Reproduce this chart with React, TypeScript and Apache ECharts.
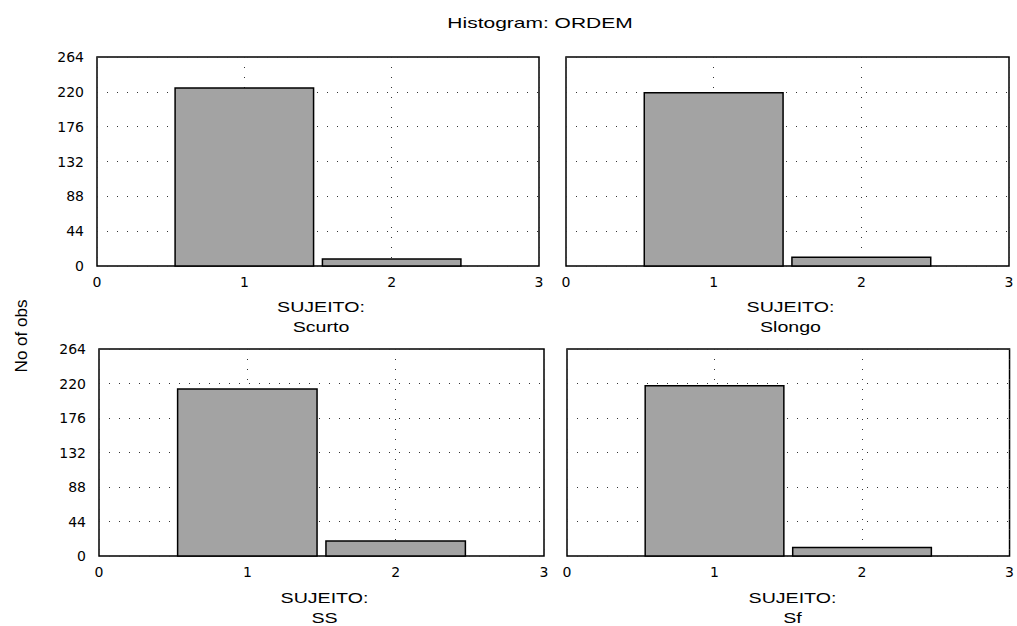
import React, { useEffect, useRef } from "react";
import * as echarts from "echarts";

const title = "Histogram: ORDEM";
const yAxisName = "No of obs";
const panelNames = ["Scurto", "Slongo", "SS", "Sf"];
const groupLabel = "SUJEITO:";
const binCenters = [1, 2];
const countsScurto = [225, 9];
const countsSlongo = [219, 11];
const countsSS = [213, 19];
const countsSf = [217, 11];
const allCounts = [countsScurto, countsSlongo, countsSS, countsSf];
const yTicks = [0, 44, 88, 132, 176, 220, 264];
const xTicks = [0, 1, 2, 3];

const FONT = "Liberation Sans, Arial, sans-serif";
const TICKFONT = "DejaVu Sans, sans-serif";

export default function App() {
  const ref = useRef<HTMLDivElement>(null);
  useEffect(() => {
    document.body.style.margin = "0";
    const chart = echarts.init(ref.current!, null, { renderer: "svg" });
    const grids = [
      { left: 97, top: 57, width: 442, height: 209 },
      { left: 566, top: 57, width: 443, height: 209 },
      { left: 99, top: 349, width: 445, height: 207 },
      { left: 567, top: 349, width: 445, height: 207 },
    ];
    const subY = [307, 307, 598, 598];
    const graphics: any[] = [
      {
        type: "text",
        x: 540,
        y: 23,
        scaleX: 1.5,
        style: {
          text: title,
          font: "14px " + FONT,
          fill: "#000",
          textAlign: "center",
          textVerticalAlign: "middle",
        },
      },
      {
        type: "text",
        x: 21,
        y: 336,
        rotation: Math.PI / 2,
        style: {
          text: yAxisName,
          font: "17px " + FONT,
          fill: "#000",
          textAlign: "center",
          textVerticalAlign: "middle",
        },
      },
    ];
    grids.forEach((g, i) => {
      const cx = g.left + g.width / 2 + 3;
      graphics.push({
        type: "text",
        x: cx,
        y: subY[i],
        scaleX: 1.4,
        style: {
          text: groupLabel,
          font: "14px " + FONT,
          fill: "#000",
          textAlign: "center",
          textVerticalAlign: "middle",
        },
      });
      graphics.push({
        type: "text",
        x: cx,
        y: subY[i] + 20,
        scaleX: 1.4,
        style: {
          text: panelNames[i],
          font: "14px " + FONT,
          fill: "#000",
          textAlign: "center",
          textVerticalAlign: "middle",
        },
      });
    });
    const option: any = {
      animation: false,
      backgroundColor: "#fff",
      grid: grids.map((g) => ({
        ...g,
        show: true,
        borderColor: "#000",
        borderWidth: 1.5,
        backgroundColor: "#fff",
      })),
      xAxis: grids.map((_, i) => ({
        type: "value",
        gridIndex: i,
        min: xTicks[0],
        max: xTicks[xTicks.length - 1],
        interval: 1,
        axisLine: { show: false },
        axisTick: { show: false },
        axisLabel: {
          fontFamily: TICKFONT,
          fontSize: 14,
          color: "#000",
          margin: 9,
        },
        splitLine: {
          show: true,
          lineStyle: { color: "#333", width: 1, type: [1, 9] },
        },
      })),
      yAxis: grids.map((_, i) => ({
        type: "value",
        gridIndex: i,
        min: yTicks[0],
        max: yTicks[yTicks.length - 1],
        interval: 44,
        axisLine: { show: false },
        axisTick: { show: false },
        axisLabel: {
          show: i % 2 === 0,
          fontFamily: TICKFONT,
          fontSize: 14,
          color: "#000",
          margin: 13,
        },
        splitLine: {
          show: true,
          lineStyle: { color: "#333", width: 1, type: [1, 9] },
        },
      })),
      graphic: graphics,
      series: allCounts.map((counts, i) => ({
        type: "custom",
        xAxisIndex: i,
        yAxisIndex: i,
        data: binCenters.map((c, j) => [c, counts[j]]),
        renderItem: (params: any, api: any) => {
          const x = api.value(0);
          const v = api.value(1);
          const p0 = api.coord([x - 0.47, 0]);
          const p1 = api.coord([x + 0.47, v]);
          return {
            type: "rect",
            shape: { x: p0[0], y: p1[1], width: p1[0] - p0[0], height: p0[1] - p1[1] },
            style: { fill: "#a3a3a3", stroke: "#000", lineWidth: 1.5 },
          };
        },
      })),
    };
    chart.setOption(option);
    return () => chart.dispose();
  }, []);
  return (
    <div
      ref={ref}
      style={{ position: "absolute", left: 0, top: 0, width: 1017, height: 626 }}
    />
  );
}
